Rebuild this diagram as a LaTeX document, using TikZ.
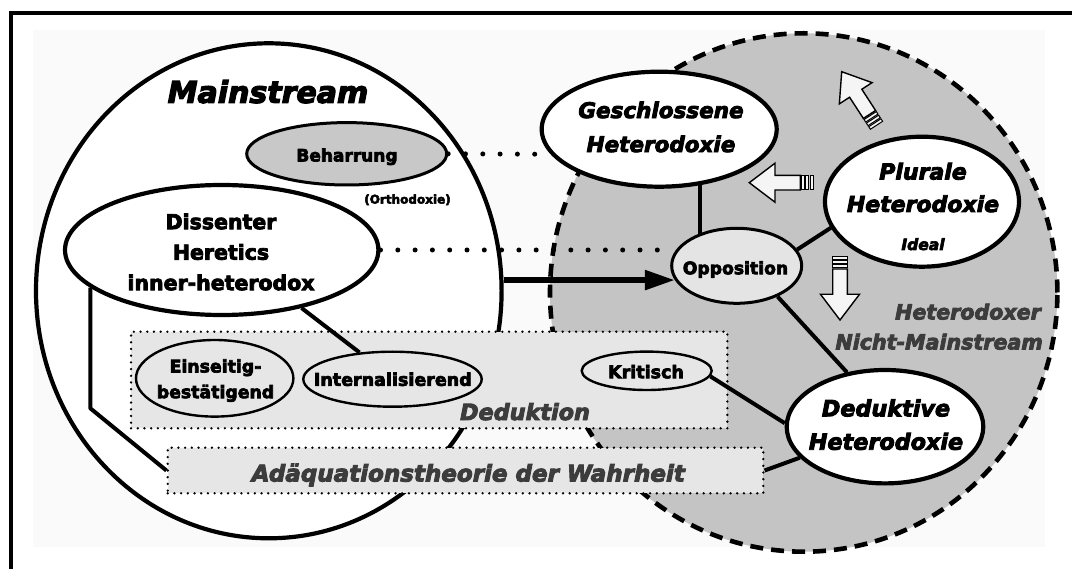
\documentclass[tikz,border=0pt]{standalone}
\usepackage{fontspec}
\setmainfont{DejaVu Sans}[BoldFeatures={FakeBold=4},BoldItalicFeatures={FakeBold=4}]
\usetikzlibrary{arrows.meta,shapes.geometric}
\pgfdeclarelayer{under}
\pgfdeclarelayer{lines}
\pgfsetlayers{under,lines,main}
\definecolor{circgray}{RGB}{196,196,196}
\definecolor{boxgray}{RGB}{230,230,230}
\definecolor{behgray}{RGB}{200,200,200}
\definecolor{oppgray}{RGB}{228,228,228}
\definecolor{txtgray}{RGB}{60,60,60}
\definecolor{arrfill}{RGB}{245,245,245}
\newcommand\fsz[2]{\fontsize{#1}{#2}\selectfont}
\begin{document}
\begin{tikzpicture}[x=1pt,y=-1pt,
  bigell/.style={ellipse,draw,fill=white,line width=4.2pt,inner sep=0pt},
  midell/.style={ellipse,draw,line width=3pt,inner sep=0pt},
  smallell/.style={ellipse,draw,fill=boxgray,line width=2.4pt,inner sep=0pt},
  lbl/.style={align=center,inner sep=0pt},
  conn/.style={line width=4pt},
  bigdots/.style={line width=5pt,line cap=round,dash pattern=on 0pt off 17.3pt},
  dotbox/.style={rectangle,draw,fill=boxgray,line width=2.6pt,line cap=round,dash pattern=on 0pt off 6.7pt,inner sep=0pt},
  pics/blockarr/.style={code={
    \draw[line width=1.4pt,fill=arrfill,line join=miter] (0,0) -- (-25.7,19.5) -- (-25.7,7.3) -- (-51,7.3) -- (-51,-7.3) -- (-25.7,-7.3) -- (-25.7,-19.5) -- cycle;
    \foreach \bx in {52.3,56.6,60.9} {\draw[line width=1pt,fill=arrfill] (-\bx,-7.3) rectangle (-\bx-3,7.3);}
  }}
]
\useasboundingbox (0,0) rectangle (1072,569);

\begin{pgfonlayer}{under}
  \fill[black!2] (33,30) rectangle (1045,547);
  \node[ellipse,draw,fill=circgray,line width=4.6pt,dash pattern=on 13pt off 8pt,inner sep=0pt,
        minimum width=507.4pt,minimum height=518.4pt] (nm) at (803.7,292.5) {};
  \node[ellipse,draw,fill=white,line width=4.2pt,inner sep=0pt,
        minimum width=465.6pt,minimum height=495pt] (main) at (268.8,290.8) {};
  \node[dotbox,minimum width=596.3pt,minimum height=96.6pt] (dedbox) at (429.2,380) {};
  \node[dotbox,minimum width=595.6pt,minimum height=45.6pt] (adq) at (465.5,470.5) {};
\end{pgfonlayer}

% ellipse nodes
\node[midell,fill=behgray,minimum width=200pt,minimum height=62.4pt] (beh) at (346.7,153.8) {};
\node[bigell,minimum width=313.4pt,minimum height=130pt] (diss) at (221.7,250) {};
\node[bigell,minimum width=235pt,minimum height=115pt] (geschl) at (659.2,129.2) {};
\node[bigell,minimum width=194pt,minimum height=130pt] (plur) at (922,201.7) {};
\node[midell,fill=oppgray,minimum width=130pt,minimum height=75pt] (opp) at (736.7,265.8) {};
\node[bigell,minimum width=196.6pt,minimum height=113.4pt] (ded) at (885,426.7) {};
\node[smallell,minimum width=157.4pt,minimum height=76.6pt] (eins) at (214.7,378.3) {};
\node[smallell,minimum width=178.4pt,minimum height=55pt] (intern) at (392.5,379.2) {};
\node[smallell,minimum width=130pt,minimum height=38.4pt] (krit) at (646.7,370.8) {};

% texts
\node[lbl,font=\bfseries\itshape\fsz{30}{36}] (mainT) at (268,91.7) {Mainstream};
\node[lbl,font=\bfseries\fsz{17}{20}] (behT) at (347,156.8) {Beharrung};
\node[lbl,font=\bfseries\fsz{12}{14}] (orthT) at (407.5,199.8) {(Orthodoxie)};
\node[lbl,font=\bfseries\fsz{20.5}{30.5}] (dissT) at (221,252) {Dissenter\\Heretics\\inner-heterodox};
\node[lbl,font=\bfseries\itshape\fsz{21.5}{34}] (geschlT) at (661,127) {Geschlossene\\Heterodoxie};
\node[lbl,font=\bfseries\itshape\fsz{22}{32.5}] (plurT) at (923,206.5) {Plurale\\Heterodoxie\\[5.5pt]{\fsz{15.5}{18}Ideal}};
\node[lbl,font=\bfseries\fsz{17.2}{20}] (oppT) at (735.5,269.5) {Opposition};
\node[lbl,font=\bfseries\itshape\fsz{22.3}{33.4}] (dedT) at (886,424.7) {Deduktive\\Heterodoxie};
\node[lbl,font=\bfseries\fsz{17.3}{25.7}] (einsT) at (215.5,380.6) {Einseitig-\\bestätigend};
\node[lbl,font=\bfseries\fsz{17.5}{20}] (internT) at (392.8,379.3) {Internalisierend};
\node[lbl,font=\bfseries\fsz{17.5}{20}] (kritT) at (646,371.7) {Kritisch};
\node[lbl,font=\bfseries\itshape\fsz{22.3}{26},text=txtgray] (dedL) at (525,411.7) {Deduktion};
\node[lbl,font=\bfseries\itshape\fsz{23}{27},text=txtgray] (adqT) at (468.3,475) {Adäquationstheorie der Wahrheit};
\node[lbl,font=\bfseries\itshape\fsz{20.6}{24},text=txtgray,anchor=east] (hetT) at (1041,311.7) {Heterodoxer};
\node[lbl,font=\bfseries\itshape\fsz{20.6}{24},text=txtgray,anchor=east] (nmT) at (1043,341.7) {Nicht-Mainstream};

% block arrows
\pic[rotate=123] (arrUL) at (841.7,71.7) {blockarr};
\pic[rotate=180] (arrL) at (749.3,182.7) {blockarr};
\pic[rotate=-90] (arrD) at (840,320) {blockarr};

% connectors
\begin{pgfonlayer}{lines}
  \draw[conn] (geschl.-54) -- (geschl.-54 |- opp.center);
  \draw[conn] (plur.196) -- (opp.15);
  \draw[conn] (opp.-37) -- (ded.125);
  \draw[conn] (krit.-5) -- (ded.178);
  \draw[conn] (ded.200) -- (adq.east);
  \draw[conn] (diss.-36) -- (intern.141);
  \coordinate (bend) at (0,408.3);
  \draw[conn,line join=round] (diss.-164) -- (diss.-164 |- bend) -- (adq.west);
  \draw[line width=5.5pt,-{Triangle[length=30pt,width=19pt]}] (main.east |- opp.193) -- (opp.193);
  \draw[bigdots] (diss.east) -- (diss.east -| opp.west);
  \draw[bigdots] (beh.east) -- (geschl.193);
\end{pgfonlayer}

% frame
\draw[line width=4pt,line join=miter] (11,569) -- (11,13.3) -- (1072,13.3);
\end{tikzpicture}
\end{document}
